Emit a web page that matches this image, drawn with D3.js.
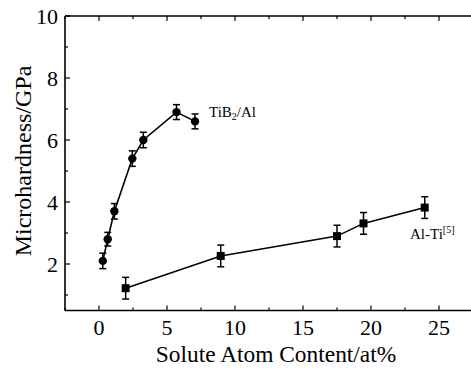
<!DOCTYPE html>
<html>
<head>
<meta charset="utf-8">
<script src="https://cdn.jsdelivr.net/npm/d3@7"></script>
<style>
  body { margin: 0; background: #fff; }
  text { font-family: "Liberation Serif", "Times New Roman", serif; fill: #000; }
</style>
</head>
<body>
<div id="chart"></div>
<script>
// TiB2/Al series (circles)
var tibX = [0.28, 0.64, 1.13, 2.45, 3.26, 5.7, 7.06];
var tibY = [2.1, 2.8, 3.7, 5.4, 6.0, 6.9, 6.6];
var tibErr = [0.25, 0.22, 0.25, 0.25, 0.25, 0.24, 0.24];

// Al-Ti series (squares)
var altiX = [1.96, 8.95, 17.5, 19.45, 23.95];
var altiY = [1.22, 2.26, 2.9, 3.31, 3.82];
var altiErr = [0.35, 0.35, 0.35, 0.35, 0.35];

var xTicks = [0, 5, 10, 15, 20, 25];
var yTicks = [2, 4, 6, 8, 10];

var W = 471, H = 369;
var margin = {top: 16, left: 65};
var x = d3.scaleLinear().domain([-2.5, 27.5]).range([margin.left, margin.left + 408]);
var y = d3.scaleLinear().domain([0.5, 10]).range([310.5, margin.top]);

var svg = d3.select("#chart").append("svg")
    .attr("width", W).attr("height", H)
    .attr("font-family", "'Liberation Serif', 'Times New Roman', serif");

// minor ticks
var xMinor = d3.range(-2.5, 27.6, 2.5);
var yMinor = d3.range(1, 10.1, 1);

var axisStroke = 1.6;

// bottom axis
var gx = svg.append("g").attr("transform", "translate(0," + y(0.5) + ")");
gx.append("line").attr("x1", x(-2.5)).attr("x2", x(27.5)).attr("stroke", "#000").attr("stroke-width", axisStroke);
gx.selectAll(".mt").data(xMinor).enter().append("line")
    .attr("x1", function (d) { return x(d); }).attr("x2", function (d) { return x(d); })
    .attr("y1", 0).attr("y2", function (d) { return d % 5 === 0 ? -5 : -3; })
    .attr("stroke", "#000").attr("stroke-width", 1.2);
gx.selectAll(".tl").data(xTicks).enter().append("text")
    .attr("x", function (d) { return x(d); }).attr("y", 24)
    .attr("text-anchor", "middle").attr("font-size", 22)
    .text(function (d) { return d; });

// top axis
var gt = svg.append("g").attr("transform", "translate(0," + y(10) + ")");
gt.append("line").attr("x1", x(-2.5)).attr("x2", x(27.5)).attr("stroke", "#000").attr("stroke-width", axisStroke);
gt.selectAll(".mt").data(xMinor).enter().append("line")
    .attr("x1", function (d) { return x(d); }).attr("x2", function (d) { return x(d); })
    .attr("y1", 0).attr("y2", function (d) { return d % 5 === 0 ? 5 : 3; })
    .attr("stroke", "#000").attr("stroke-width", 1.2);

// left axis
var gy = svg.append("g").attr("transform", "translate(" + x(-2.5) + ",0)");
gy.append("line").attr("y1", y(0.5)).attr("y2", y(10)).attr("stroke", "#000").attr("stroke-width", axisStroke);
gy.selectAll(".mt").data(yMinor).enter().append("line")
    .attr("y1", function (d) { return y(d); }).attr("y2", function (d) { return y(d); })
    .attr("x1", 0).attr("x2", function (d) { return d % 2 === 0 ? 5 : 3; })
    .attr("stroke", "#000").attr("stroke-width", 1.2);
gy.selectAll(".tl").data(yTicks).enter().append("text")
    .attr("x", -7).attr("y", function (d) { return y(d); })
    .attr("dy", "0.35em")
    .attr("text-anchor", "end").attr("font-size", 22)
    .text(function (d) { return d; });

// axis titles
svg.append("text")
    .attr("x", 276).attr("y", 362)
    .attr("text-anchor", "middle").attr("font-size", 23.4)
    .text("Solute Atom Content/at%");
svg.append("text")
    .attr("transform", "translate(31,161) rotate(-90)")
    .attr("text-anchor", "middle").attr("font-size", 24)
    .text("Microhardness/GPa");

var line = d3.line()
    .x(function (d) { return x(d[0]); })
    .y(function (d) { return y(d[1]); });

function drawSeries(xs, ys, errs, shape) {
    var pts = xs.map(function (v, i) { return [v, ys[i], errs[i]]; });
    var g = svg.append("g");
    g.append("path").datum(pts).attr("d", line)
        .attr("fill", "none").attr("stroke", "#000").attr("stroke-width", 1.6);
    var eb = g.selectAll(".eb").data(pts).enter().append("g");
    eb.append("line")
        .attr("x1", function (d) { return x(d[0]); }).attr("x2", function (d) { return x(d[0]); })
        .attr("y1", function (d) { return y(d[1] - d[2]); }).attr("y2", function (d) { return y(d[1] + d[2]); })
        .attr("stroke", "#000").attr("stroke-width", 1.5);
    [-1, 1].forEach(function (s) {
        eb.append("line")
            .attr("x1", function (d) { return x(d[0]) - 3.5; }).attr("x2", function (d) { return x(d[0]) + 3.5; })
            .attr("y1", function (d) { return y(d[1] + s * d[2]); }).attr("y2", function (d) { return y(d[1] + s * d[2]); })
            .attr("stroke", "#000").attr("stroke-width", 1.5);
    });
    if (shape === "circle") {
        g.selectAll(".pt").data(pts).enter().append("circle")
            .attr("cx", function (d) { return x(d[0]); }).attr("cy", function (d) { return y(d[1]); })
            .attr("r", 4.2).attr("fill", "#000");
    } else {
        g.selectAll(".pt").data(pts).enter().append("rect")
            .attr("x", function (d) { return x(d[0]) - 4; }).attr("y", function (d) { return y(d[1]) - 4; })
            .attr("width", 8).attr("height", 8).attr("fill", "#000");
    }
}

drawSeries(tibX, tibY, tibErr, "circle");
drawSeries(altiX, altiY, altiErr, "square");

// series labels
var l1 = svg.append("text").attr("x", 209).attr("y", 117).attr("font-size", 15);
l1.append("tspan").text("TiB");
l1.append("tspan").attr("font-size", 10).attr("dy", 3).text("2");
l1.append("tspan").attr("dy", -3).text("/Al");

var l2 = svg.append("text").attr("x", 410).attr("y", 239).attr("font-size", 15);
l2.append("tspan").text("Al-Ti");
l2.append("tspan").attr("font-size", 10).attr("dy", -6).text("[5]");
</script>
</body>
</html>
